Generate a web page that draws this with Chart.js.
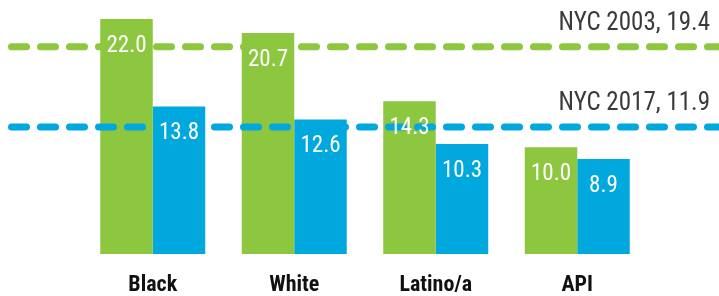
<!DOCTYPE html>
<html>
<head>
<meta charset="utf-8">
<script src="https://cdn.jsdelivr.net/npm/chart.js@4/dist/chart.umd.min.js"></script>
<style>
  html, body { margin: 0; padding: 0; background: #fff; }
  #wrap { width: 719px; height: 296px; }
</style>
</head>
<body>
<div id="wrap"><canvas id="chart"></canvas></div>
<script>
// --- data ---
const categories = ['Black', 'White', 'Latino/a', 'API'];
const values2003 = [22.0, 20.7, 14.3, 10.0];
const values2017 = [13.8, 12.6, 10.3, 8.9];
const refValues = [19.4, 11.9];
const refLabels = ['NYC 2003, 19.4', 'NYC 2017, 11.9'];

const GREEN = '#8dc63f';
const BLUE = '#00a8de';
const FONT = '"Liberation Sans Narrow", "Roboto Condensed", "DejaVu Sans Condensed", sans-serif';

// dashed reference lines + their text, across the whole canvas
const refLines = {
    id: 'refLines',
    afterDatasetsDraw(chart) {
        const ctx = chart.ctx;
        const y = chart.scales.y;
        const colors = [GREEN, BLUE];
        ctx.save();
        refValues.forEach((v, i) => {
            const py = y.getPixelForValue(v);
            ctx.strokeStyle = colors[i];
            ctx.lineWidth = 7;
            ctx.lineCap = 'round';
            ctx.setLineDash([15, 14]);
            ctx.beginPath();
            ctx.moveTo(11.5, py);
            ctx.lineTo(chart.width, py);
            ctx.stroke();

            ctx.setLineDash([]);
            ctx.fillStyle = '#3a3a3a';
            ctx.font = '25px ' + FONT;
            ctx.textAlign = 'right';
            ctx.textBaseline = 'middle';
            ctx.fillText(refLabels[i], 710, py - 23);
        });
        ctx.restore();
    }
};

// white value labels inside the top of each bar
const barLabels = {
    id: 'barLabels',
    afterDraw(chart) {
        const ctx = chart.ctx;
        ctx.save();
        ctx.fillStyle = '#fff';
        ctx.font = '23px ' + FONT;
        ctx.textAlign = 'center';
        ctx.textBaseline = 'middle';
        chart.data.datasets.forEach((ds, di) => {
            chart.getDatasetMeta(di).data.forEach((bar, i) => {
                ctx.fillText(ds.data[i].toFixed(1), bar.x, bar.y + 27);
            });
        });
        ctx.restore();
    }
};

new Chart(document.getElementById('chart'), {
    type: 'bar',
    data: {
        labels: categories,
        datasets: [
            { label: '2003', data: values2003, backgroundColor: GREEN },
            { label: '2017', data: values2017, backgroundColor: BLUE }
        ]
    },
    options: {
        responsive: true,
        maintainAspectRatio: false,
        animation: false,
        layout: { padding: { left: 82, right: 71, top: 19, bottom: 0 } },
        datasets: { bar: { categoryPercentage: 0.742, barPercentage: 1.0 } },
        scales: {
            x: {
                grid: { display: false },
                border: { display: false },
                afterFit(scale) { scale.height = 42; },
                ticks: {
                    color: '#111',
                    padding: 10,
                    font: { family: FONT, size: 22, weight: 'bold' }
                }
            },
            y: {
                display: false,
                min: 0,
                max: 22
            }
        },
        plugins: {
            legend: { display: false },
            tooltip: { enabled: false }
        }
    },
    plugins: [refLines, barLabels]
});
</script>
</body>
</html>
